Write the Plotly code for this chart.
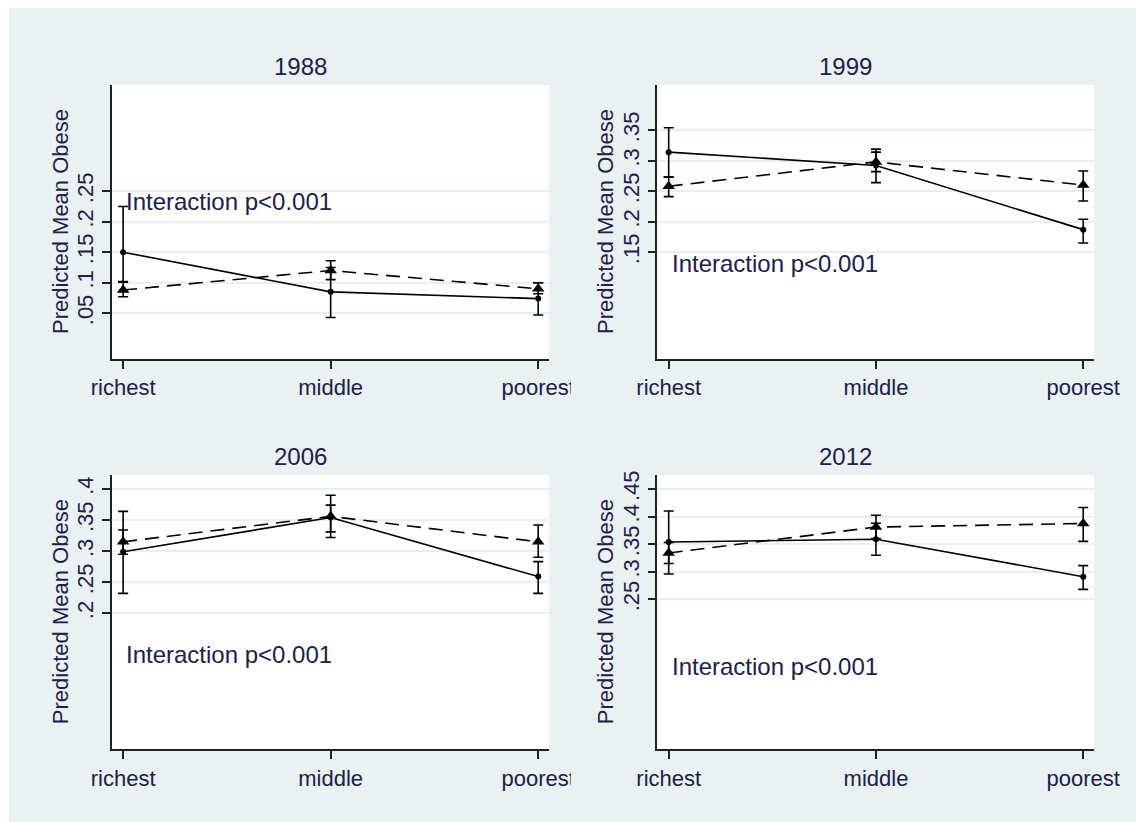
import plotly.graph_objects as go

# ---------------- data ----------------
categories = ["richest", "middle", "poorest"]
years = ["1988", "1999", "2006", "2012"]

# solid line, circle markers (mean, lower CI, upper CI) per year
solid_mean = [[0.150, 0.085, 0.074], [0.314, 0.292, 0.187], [0.299, 0.354, 0.259], [0.354, 0.359, 0.291]]
solid_lo = [[0.102, 0.043, 0.047], [0.273, 0.264, 0.165], [0.232, 0.322, 0.232], [0.296, 0.330, 0.268]]
solid_hi = [[0.225, 0.125, 0.100], [0.354, 0.319, 0.204], [0.364, 0.390, 0.283], [0.410, 0.388, 0.311]]

# dashed line, triangle markers
dash_mean = [[0.088, 0.120, 0.090], [0.258, 0.298, 0.260], [0.315, 0.356, 0.315], [0.334, 0.381, 0.3875]]
dash_lo = [[0.077, 0.105, 0.082], [0.241, 0.282, 0.234], [0.295, 0.331, 0.290], [0.315, 0.360, 0.355]]
dash_hi = [[0.101, 0.136, 0.100], [0.273, 0.314, 0.283], [0.334, 0.374, 0.342], [0.353, 0.4025, 0.4165]]

ytick_vals = [[0.05, 0.10, 0.15, 0.20, 0.25], [0.15, 0.20, 0.25, 0.30, 0.35],
              [0.20, 0.25, 0.30, 0.35, 0.40], [0.25, 0.30, 0.35, 0.40, 0.45]]
ytick_text = [[".05", ".1", ".15", ".2", ".25"], [".15", ".2", ".25", ".3", ".35"],
              [".2", ".25", ".3", ".35", ".4"], [".25", ".3", ".35", ".4", ".45"]]
y_ranges = [[-0.025, 0.424], [-0.025, 0.424], [-0.019, 0.4225], [-0.022, 0.4754]]
note_text = "Interaction p<0.001"
note_y = [0.2325, 0.131, 0.133, 0.128]
y_title = "Predicted Mean Obese"

# ---------------- layout geometry (pixels) ----------------
W, H = 1136, 822
BG = "#EAF1F3"
TXT = "#20204a"
FONT = "Arial, Liberation Sans, sans-serif"
px_x = [(111.7, 549.0), (657.3, 1094.0), (111.7, 549.0), (657.3, 1094.0)]
px_y = [(85.0, 359.0), (85.0, 359.0), (475.0, 749.3), (475.0, 749.3)]
title_pos = [(300, 66), (845, 66), (300, 456), (845, 456)]
ytitle_x = [60, 605, 60, 605]

fig = go.Figure()
layout = dict(template="none", width=W, height=H, autosize=False,
              margin=dict(l=0, r=0, t=0, b=0, pad=0, autoexpand=False),
              paper_bgcolor=BG, plot_bgcolor="white",
              showlegend=False, font=dict(family=FONT, color=TXT, size=22))
annotations = []
shapes = [
    dict(type="rect", xref="paper", yref="paper", x0=0, x1=9 / W, y0=0, y1=1,
         fillcolor="white", line=dict(width=0), layer="below"),
    dict(type="rect", xref="paper", yref="paper", x0=0, x1=1, y0=1 - 8 / H, y1=1,
         fillcolor="white", line=dict(width=0), layer="below"),
    # clipping of the last tick label of the left-hand panels
    dict(type="rect", xref="paper", yref="paper", x0=571 / W, x1=586 / W,
         y0=1 - 400 / H, y1=1 - 362 / H, fillcolor=BG, line=dict(width=0), layer="above"),
    dict(type="rect", xref="paper", yref="paper", x0=571 / W, x1=586 / W,
         y0=1 - 790 / H, y1=1 - 752 / H, fillcolor=BG, line=dict(width=0), layer="above"),
]

for i, yr in enumerate(years):
    sfx = "" if i == 0 else str(i + 1)
    xa, ya = "x" + sfx, "y" + sfx
    xs = list(range(len(categories)))
    sm, sl, sh = solid_mean[i], solid_lo[i], solid_hi[i]
    dm, dl, dh = dash_mean[i], dash_lo[i], dash_hi[i]
    fig.add_trace(go.Scatter(
        x=xs, y=dm, xaxis=xa, yaxis=ya, mode="lines+markers",
        line=dict(color="black", width=1.6, dash="14px,8px"),
        marker=dict(symbol="triangle-up", size=11, color="black"),
        error_y=dict(type="data", symmetric=False,
                     array=[h - m for h, m in zip(dh, dm)],
                     arrayminus=[m - l for m, l in zip(dm, dl)],
                     color="black", thickness=1.6, width=5)))
    fig.add_trace(go.Scatter(
        x=xs, y=sm, xaxis=xa, yaxis=ya, mode="lines+markers",
        line=dict(color="black", width=1.6),
        marker=dict(symbol="circle", size=6, color="black"),
        error_y=dict(type="data", symmetric=False,
                     array=[h - m for h, m in zip(sh, sm)],
                     arrayminus=[m - l for m, l in zip(sm, sl)],
                     color="black", thickness=1.6, width=5)))

    x0, x1 = px_x[i]
    ytop, ybot = px_y[i]
    layout["xaxis" + sfx] = dict(
        domain=[x0 / W, x1 / W], anchor=ya, range=[-0.055, 2.052], automargin=False,
        tickmode="array", tickvals=xs, ticktext=categories,
        showgrid=False, zeroline=False, showline=True, linecolor="#222222", linewidth=1.6,
        ticks="outside", ticklen=8, tickwidth=1.6, tickcolor="#222222",
        tickfont=dict(size=22, color=TXT, family=FONT), fixedrange=True)
    layout["yaxis" + sfx] = dict(
        domain=[1 - ybot / H, 1 - ytop / H], anchor=xa, range=y_ranges[i], automargin=False,
        tickmode="array", tickvals=ytick_vals[i], ticktext=ytick_text[i],
        tickangle=-90, showgrid=True, gridcolor="#E6EFF2", gridwidth=1.5,
        zeroline=False, showline=True, linecolor="#222222", linewidth=1.6,
        ticks="outside", ticklen=8, tickwidth=1.6, tickcolor="#222222",
        tickfont=dict(size=22, color=TXT, family=FONT), fixedrange=True)

    tx, ty = title_pos[i]
    annotations.append(dict(text=yr, xref="paper", yref="paper", x=tx / W, y=1 - ty / H,
                            xanchor="center", yanchor="middle", showarrow=False,
                            font=dict(size=24, color=TXT, family=FONT)))
    annotations.append(dict(text=y_title, xref="paper", yref="paper",
                            x=ytitle_x[i] / W, y=1 - (ytop + ybot) / 2 / H,
                            xanchor="center", yanchor="middle", textangle=-90, showarrow=False,
                            font=dict(size=22, color=TXT, family=FONT)))
    annotations.append(dict(text=note_text, xref=xa, yref=ya, x=0.005, y=note_y[i],
                            xanchor="left", yanchor="middle", showarrow=False,
                            font=dict(size=24, color=TXT, family=FONT)))

layout["annotations"] = annotations
layout["shapes"] = shapes
fig.update_layout(**layout)
fig.write_html(
    "out.html",
    post_script="document.body.style.margin='0';document.body.style.background='%s';"
                "document.documentElement.style.background='%s';" % (BG, BG))
